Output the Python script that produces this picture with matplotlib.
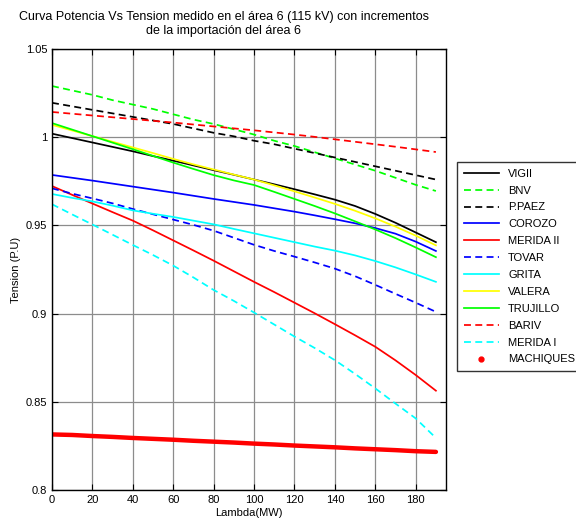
import matplotlib
matplotlib.use("Agg")
import matplotlib.pyplot as plt
import numpy as np
from matplotlib.lines import Line2D

plt.rcParams['font.family'] = ['Liberation Sans', 'DejaVu Sans']

# Lambda (MW)
lam = np.arange(0, 191, 10)

vigii = [1.002, 0.9995, 0.997, 0.9945, 0.992, 0.9893, 0.9867, 0.984, 0.9813, 0.9787,
         0.976, 0.9733, 0.9705, 0.9676, 0.9646, 0.961, 0.9565, 0.9515, 0.946, 0.9405]
bnv = [1.029, 1.0265, 1.024, 1.021, 1.0185, 1.016, 1.013, 1.010, 1.0075, 1.0045,
       1.0015, 0.998, 0.995, 0.9915, 0.988, 0.9845, 0.981, 0.977, 0.973, 0.9695]
ppaez = [1.0195, 1.0175, 1.0155, 1.0135, 1.0115, 1.0095, 1.0075, 1.005, 1.0025, 1.0005,
         0.998, 0.996, 0.9935, 0.991, 0.9885, 0.986, 0.9835, 0.981, 0.9785, 0.976]
corozo = [0.9786, 0.977, 0.9754, 0.9737, 0.972, 0.9703, 0.9686, 0.9668, 0.965, 0.9633,
          0.9616, 0.9597, 0.9578, 0.9557, 0.9535, 0.9512, 0.9485, 0.9453, 0.9408, 0.9355]
merida2 = [0.9723, 0.9673, 0.9624, 0.9575, 0.9527, 0.9472, 0.9415, 0.9358, 0.93, 0.924,
           0.918, 0.9122, 0.9062, 0.9002, 0.894, 0.8877, 0.8812, 0.8735, 0.8652, 0.8563]
tovar = [0.971, 0.968, 0.9653, 0.9625, 0.9593, 0.9563, 0.9533, 0.9503, 0.947, 0.943,
         0.939, 0.9355, 0.9323, 0.929, 0.9255, 0.9212, 0.9163, 0.9112, 0.9062, 0.901]
grita = [0.9678, 0.9656, 0.9636, 0.9612, 0.9585, 0.9566, 0.9548, 0.9527, 0.9506, 0.948,
         0.9455, 0.943, 0.9405, 0.938, 0.9357, 0.933, 0.9298, 0.9262, 0.9222, 0.918]
valera = [1.007, 1.0038, 1.0006, 0.9974, 0.9942, 0.991, 0.9877, 0.9846, 0.9817, 0.9788,
          0.976, 0.9727, 0.9693, 0.9658, 0.9622, 0.9583, 0.954, 0.9493, 0.9442, 0.9387]
trujillo = [1.008, 1.0043, 1.0006, 0.9969, 0.9932, 0.9894, 0.9856, 0.982, 0.9785, 0.9755,
            0.9729, 0.969, 0.965, 0.961, 0.9568, 0.9523, 0.9477, 0.9428, 0.9375, 0.932]
bariv = [1.0143, 1.0133, 1.0123, 1.0113, 1.0103, 1.0093, 1.0083, 1.0072, 1.0061, 1.005,
         1.0039, 1.0027, 1.0015, 1.0002, 0.9988, 0.9974, 0.996, 0.9946, 0.9931, 0.9916]
merida1 = [0.962, 0.9562, 0.9505, 0.9447, 0.9389, 0.9332, 0.9272, 0.9205, 0.9134, 0.9072,
           0.9006, 0.8938, 0.887, 0.8805, 0.8736, 0.8658, 0.8576, 0.849, 0.8406, 0.8295]
machiques = [0.8315, 0.8312, 0.8306, 0.8301, 0.8295, 0.829, 0.8285, 0.8279, 0.8274, 0.8269,
             0.8263, 0.8258, 0.8252, 0.8247, 0.8242, 0.8236, 0.8231, 0.8226, 0.822, 0.8216]

series = [
    ('VIGII', vigii, 'black', '-'),
    ('BNV', bnv, '#00ff00', '--'),
    ('P.PAEZ', ppaez, 'black', '--'),
    ('COROZO', corozo, '#0000ff', '-'),
    ('MERIDA II', merida2, '#ff0000', '-'),
    ('TOVAR', tovar, '#0000ff', '--'),
    ('GRITA', grita, '#00ffff', '-'),
    ('VALERA', valera, '#ffff00', '-'),
    ('TRUJILLO', trujillo, '#00ff00', '-'),
    ('BARIV', bariv, '#ff0000', '--'),
    ('MERIDA I', merida1, '#00ffff', '--'),
]

fig = plt.figure(figsize=(5.76, 5.24), dpi=100)
ax = fig.add_axes([52/576, 1 - 490/524, (446 - 52)/576, (490 - 49)/524])

handles = []
for name, vals, col, ls in series:
    h, = ax.plot(lam, vals, color=col, linestyle=ls, lw=1.25,
                 dashes=(4, 2.5) if ls == '--' else (None, None), label=name)
    handles.append(h)

ax.plot(lam, machiques, color='#ff0000', lw=3.2, solid_capstyle='round')
handles.append(Line2D([], [], color='#ff0000', marker='.', ls='none', ms=7, label='MACHIQUES'))

ax.set_xlim(0, 195)
ax.set_ylim(0.8, 1.05)
ax.set_xticks(np.arange(0, 181, 20))
ax.set_yticks([0.8, 0.85, 0.9, 0.95, 1.0, 1.05])
ax.set_yticklabels(['0.8', '0.85', '0.9', '0.95', '1', '1.05'])
ax.grid(True, color='#8c8c8c', lw=0.9)
ax.tick_params(direction='in', top=True, right=True, labelsize=8, length=4, width=0.8)
for s in ax.spines.values():
    s.set_linewidth(1.0)
ax.set_xlabel('Lambda(MW)', fontsize=8, labelpad=2)
ax.set_ylabel('Tension (P.U)', fontsize=8, labelpad=3)

fig.text(224/576, 1 - 24/524, 'Curva Potencia Vs Tension medido en el área 6 (115 kV) con incrementos\nde la importación del área 6',
         ha='center', va='center', fontsize=9, linespacing=1.15)

leg = fig.legend(handles=handles, loc='upper left', bbox_to_anchor=(457/576, 1 - 162/524),
                 fontsize=8, frameon=True, fancybox=False, edgecolor='black',
                 handlelength=3.2, labelspacing=0.62, borderaxespad=0, borderpad=0.6)
leg.get_frame().set_linewidth(1.0)

fig.savefig('out.png', dpi=100)
